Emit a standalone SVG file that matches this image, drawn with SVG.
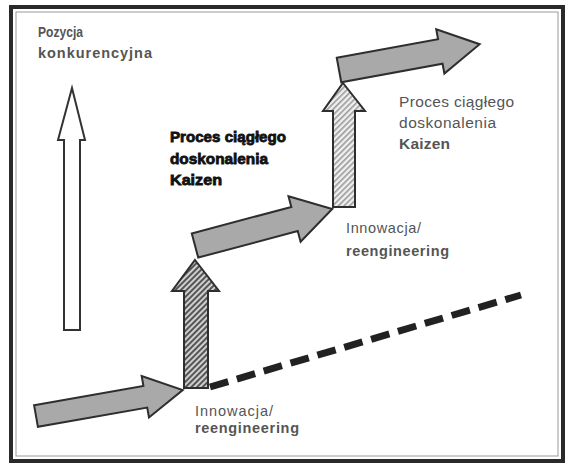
<svg xmlns="http://www.w3.org/2000/svg" width="568" height="467" viewBox="0 0 568 467">
<style>
.g{fill:#a9a9a9;stroke:#2e2e2e;stroke-width:2;stroke-linejoin:miter}
.w{fill:#fff;stroke:#333;stroke-width:2}
.t{font-family:"Liberation Sans",Arial,sans-serif;fill:#555}
.tb{font-family:"Liberation Sans",Arial,sans-serif;fill:#111;font-weight:bold}
</style>
<defs>
<pattern id="h1" width="4" height="4" patternUnits="userSpaceOnUse" patternTransform="rotate(45)">
<rect width="4" height="4" fill="#cfcfcf"/>
<rect width="2" height="4" fill="#555"/>
</pattern>
<pattern id="h2" width="4" height="4" patternUnits="userSpaceOnUse" patternTransform="rotate(45)">
<rect width="4" height="4" fill="#f0f0f0"/>
<rect width="1.6" height="4" fill="#9a9a9a"/>
</pattern>
</defs>
<rect x="0" y="0" width="568" height="467" fill="#fff"/>
<g id="frame">
<rect x="11" y="7" width="552" height="454" fill="#fff" stroke="#2a2a2a" stroke-width="4"/>
<rect x="16" y="12" width="542" height="444" fill="none" stroke="#999" stroke-width="1"/>
</g>
<g id="connectors">
<line x1="210" y1="387" x2="521" y2="295" stroke="#222" stroke-width="7" stroke-dasharray="19 9"/>
</g>
<g id="axis-arrow">
<polygon class="w" points="72,88 85,140 80,140 80,330 64,330 64,140 58,140"/>
</g>
<g id="kaizen-arrow-1">
<polygon class="g" transform="translate(36,416) rotate(-10)" points="0,-11 111,-11 111,-21 149,0 111,21 111,11 0,11"/>
</g>
<g id="innovation-arrow-1">
<polygon points="195,260 219,291 208,291 208,388 184,388 184,291 172,291" fill="url(#h1)" stroke="#2e2e2e" stroke-width="2"/>
</g>
<g id="kaizen-arrow-2">
<polygon class="g" transform="translate(195,245.5) rotate(-14.9)" points="0,-12.5 103,-12.5 103,-23.5 142,0 103,23.5 103,12.5 0,12.5"/>
</g>
<g id="innovation-arrow-2">
<polygon points="343,83 365,111 355,111 355,207 333,207 333,111 323,111" fill="url(#h2)" stroke="#2e2e2e" stroke-width="2"/>
</g>
<g id="kaizen-arrow-3">
<polygon class="g" transform="translate(339,70) rotate(-10.4)" points="0,-12.5 103,-12.5 103,-22.5 143,0 103,22.5 103,12.5 0,12.5"/>
</g>
<g id="label-axis">
<text class="t" font-weight="bold" font-size="14.5" x="38" y="37" textLength="45" lengthAdjust="spacingAndGlyphs">Pozycja</text>
<text class="t" font-weight="bold" font-size="14.5" x="38" y="58" textLength="114">konkurencyjna</text>
</g>
<g id="label-kaizen-1">
<text class="tb" font-size="15" x="170" y="142" textLength="116" lengthAdjust="spacingAndGlyphs" stroke="#111" stroke-width="0.8">Proces ciągłego</text>
<text class="tb" font-size="15" x="170" y="164" textLength="98" lengthAdjust="spacingAndGlyphs" stroke="#111" stroke-width="0.8">doskonalenia</text>
<text class="tb" font-size="15" x="170" y="185" textLength="52" lengthAdjust="spacingAndGlyphs" stroke="#111" stroke-width="0.8">Kaizen</text>
</g>
<g id="label-kaizen-2">
<text class="t" font-size="15.5" x="399" y="107" textLength="115">Proces ciągłego</text>
<text class="t" font-size="15.5" x="399" y="128" textLength="97">doskonalenia</text>
<text class="t" font-size="15.5" x="399" y="149" textLength="51" font-weight="bold" fill="#444">Kaizen</text>
</g>
<g id="label-innovation-2">
<text class="t" font-size="14.5" x="346" y="233" textLength="75">Innowacja/</text>
<text class="t" font-size="14.5" font-weight="bold" x="346" y="256" textLength="103">reengineering</text>
</g>
<g id="label-innovation-1">
<text class="t" font-size="14.5" x="195" y="416" textLength="78">Innowacja/</text>
<text class="t" font-size="14.5" font-weight="bold" x="195" y="433" textLength="104">reengineering</text>
</g>
</svg>
